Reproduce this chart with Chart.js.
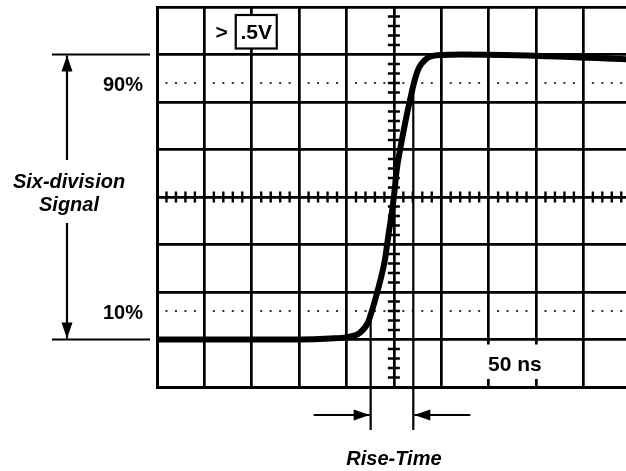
<!DOCTYPE html>
<html><head><meta charset="utf-8">
<script src="https://cdn.jsdelivr.net/npm/chart.js@4/dist/chart.umd.min.js"></script>
<style>html,body{margin:0;padding:0;background:#fff;overflow:hidden}canvas{display:block}</style>
</head><body>
<canvas id="c" width="626" height="471"></canvas>
<script>
// waveform, in graticule divisions (x: time, y: volts)
const timeDiv   = [-5, -1.98, -1.35, -0.99, -0.72, -0.55, -0.44, -0.30, -0.19, -0.13, 0.00, 0.06, 0.13, 0.23, 0.34, 0.44, 0.53, 0.65, 0.82, 1.08, 1.40, 3.08, 4.90];
const signalDiv = [-3, -3.00, -2.98, -2.95, -2.86, -2.65, -2.32, -1.81, -1.33, -0.91, 0.00, 0.57, 0.99, 1.52, 2.04, 2.46, 2.72, 2.88, 2.97, 2.99, 3.00, 2.97, 2.90];
const xGridTicks = [-5, -4, -3, -2, -1, 0, 1, 2, 3, 4];
const yGridTicks = [-4, -3, -2, -1, 0, 1, 2, 3, 4];
const signalLevels = [-3, 3];          // 0% and 100% of six-division signal
const pctLevels = [-2.4, 2.4];         // 10% and 90%
const pctLabels = ['10%', '90%'];
const riseMarks = [-0.49, 0.41];       // 10% and 90% crossings
const voltsLabel = '.5V';
const timeLabel = '50 ns';
const signalText = ['Six-division', 'Signal'];
const riseText = 'Rise-Time';

const FONT = "'Liberation Sans', Arial, Helvetica, sans-serif";

function arrow(ctx, x0, y0, x1, y1, len, half) {
  ctx.beginPath(); ctx.moveTo(x0, y0); ctx.lineTo(x1, y1); ctx.stroke();
  const ang = Math.atan2(y1 - y0, x1 - x0);
  ctx.beginPath();
  ctx.moveTo(x1, y1);
  ctx.lineTo(x1 - len * Math.cos(ang) + half * Math.sin(ang), y1 - len * Math.sin(ang) - half * Math.cos(ang));
  ctx.lineTo(x1 - len * Math.cos(ang) - half * Math.sin(ang), y1 - len * Math.sin(ang) + half * Math.cos(ang));
  ctx.closePath(); ctx.fill();
}

const graticule = {
  id: 'graticule',
  beforeDatasetsDraw(chart) {
    const { ctx, scales: { x, y }, chartArea: a } = chart;
    ctx.save();
    ctx.fillStyle = '#333';
    pctLevels.forEach(lv => {
      const py = y.getPixelForValue(lv);
      xGridTicks.forEach(v => {
        for (let k = 1; k <= 4; k++) {
          const px = x.getPixelForValue(v + k * 0.2);
          if (px < a.right - 1) ctx.fillRect(px - 1, py - 1, 2, 2);
        }
      });
    });
    ctx.strokeStyle = '#000'; ctx.lineWidth = 2.4;
    const cx = x.getPixelForValue(0), cy = y.getPixelForValue(0);
    ctx.beginPath();
    for (let i = -20; i <= 20; i++) {
      if (i % 5 === 0) continue;
      const py = y.getPixelForValue(i * 0.2);
      ctx.moveTo(cx - 6, py); ctx.lineTo(cx + 6, py);
    }
    for (let i = -25; i <= 24; i++) {
      if (i % 5 === 0) continue;
      const px = x.getPixelForValue(i * 0.2);
      ctx.moveTo(px, cy - 5.5); ctx.lineTo(px, cy + 5.5);
    }
    ctx.stroke();
    ctx.restore();
  },
  afterDatasetsDraw(chart) {
    const { ctx, scales: { x, y }, chartArea: a } = chart;
    ctx.save();
    ctx.strokeStyle = '#000'; ctx.fillStyle = '#000';
    // volts box
    const bx = x.getPixelForValue(-3) - 16, by = y.getPixelForValue(4) + 8;
    const bw = 41, bh = y.getPixelForValue(3) - 6 - by;
    ctx.fillStyle = '#fff'; ctx.fillRect(bx, by, bw, bh);
    ctx.lineWidth = 2.2; ctx.strokeRect(bx, by, bw, bh);
    ctx.fillStyle = '#000';
    ctx.font = 'bold 21px ' + FONT; ctx.textBaseline = 'middle'; ctx.textAlign = 'center';
    ctx.fillText(voltsLabel, bx + bw / 2, by + bh / 2 + 1);
    ctx.fillText('>', bx - 14, by + bh / 2 + 1);
    // time label
    const tx0 = x.getPixelForValue(2) - 4, tx1 = x.getPixelForValue(3) + 5;
    const ty0 = y.getPixelForValue(-3) + 5, ty1 = y.getPixelForValue(-4) - 8;
    ctx.fillStyle = '#fff'; ctx.fillRect(tx0, ty0, tx1 - tx0, ty1 - ty0);
    ctx.fillStyle = '#000';
    ctx.fillText(timeLabel, (tx0 + tx1) / 2 + 2, (ty0 + ty1) / 2 + 3);
    // rise-time markers
    ctx.lineWidth = 2.2;
    const bottom = a.bottom + 43;
    riseMarks.forEach((m, i) => {
      const px = x.getPixelForValue(m);
      ctx.beginPath(); ctx.moveTo(px, y.getPixelForValue(pctLevels[i])); ctx.lineTo(px, bottom); ctx.stroke();
    });
    const ay = a.bottom + 28;
    const m0 = x.getPixelForValue(riseMarks[0]), m1 = x.getPixelForValue(riseMarks[1]);
    arrow(ctx, m0 - 57, ay, m0 - 1, ay, 16, 5.5);
    arrow(ctx, m1 + 57, ay, m1 + 1, ay, 16, 5.5);
    ctx.font = 'italic bold 20px ' + FONT;
    ctx.fillText(riseText, (m0 + m1) / 2 + 2, a.bottom + 72);
    // left: six-division annotation
    const yTop = y.getPixelForValue(signalLevels[1]), yBot = y.getPixelForValue(signalLevels[0]);
    ctx.beginPath();
    ctx.moveTo(52, yTop); ctx.lineTo(150, yTop);
    ctx.moveTo(52, yBot); ctx.lineTo(150, yBot);
    ctx.stroke();
    arrow(ctx, 67, 160, 67, yTop + 1, 16, 5.5);
    arrow(ctx, 67, 223, 67, yBot - 1, 16, 5.5);
    ctx.fillText(signalText[0], 69, 182);
    ctx.fillText(signalText[1], 69, 205);
    ctx.font = 'bold 20px ' + FONT; ctx.textAlign = 'right';
    pctLevels.forEach((lv, i) => ctx.fillText(pctLabels[i], 143, y.getPixelForValue(lv) + 2));
    ctx.restore();
  }
};

const gridOpts = { color: '#000', lineWidth: 2.7, drawTicks: false };
const borderOpts = { display: true, color: '#000', width: 3 };

new Chart(document.getElementById('c'), {
  type: 'line',
  data: {
    datasets: [{
      data: timeDiv.map((t, i) => ({ x: t, y: signalDiv[i] })),
      borderColor: '#000', borderWidth: 6, pointRadius: 0,
      cubicInterpolationMode: 'monotone', fill: false,
      borderCapStyle: 'round', borderJoinStyle: 'round'
    }]
  },
  options: {
    responsive: false, animation: false, devicePixelRatio: 1, events: [],
    layout: { padding: { left: 157, top: 7, right: 0, bottom: 84 } },
    plugins: { legend: { display: false }, tooltip: { enabled: false } },
    scales: {
      x: { type: 'linear', min: -5, max: 4.9,
           afterBuildTicks: s => { s.ticks = xGridTicks.map(v => ({ value: v })); },
           ticks: { display: false }, grid: gridOpts, border: borderOpts },
      y: { type: 'linear', min: -4, max: 4,
           afterBuildTicks: s => { s.ticks = yGridTicks.map(v => ({ value: v })); },
           ticks: { display: false }, grid: gridOpts, border: borderOpts }
    }
  },
  plugins: [graticule]
});
</script>
</body></html>
